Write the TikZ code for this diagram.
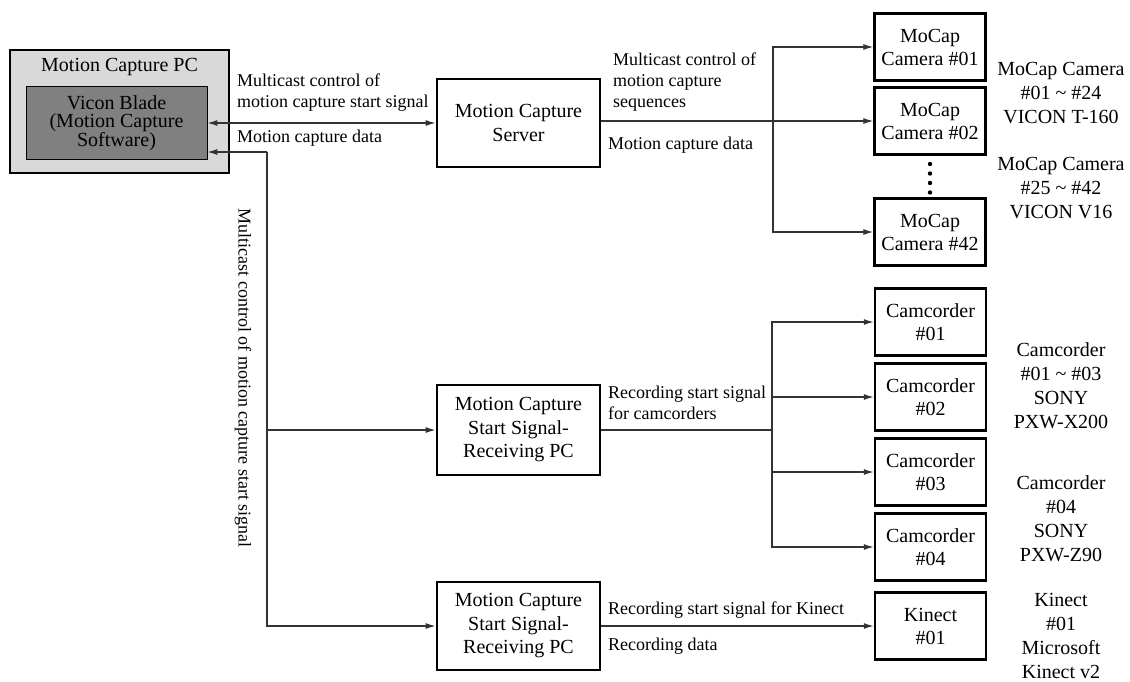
\documentclass[tikz,border=0pt]{standalone}
\usepackage{fontspec}
\setmainfont{Liberation Serif}
\usetikzlibrary{arrows.meta, positioning}

\begin{document}
\begin{tikzpicture}[x=1pt, y=-1pt,
            box/.style={draw, line width=2.8pt, fill=white, minimum width=163pt, minimum height=88pt, align=center, font=\fontsize{20}{23.5}\selectfont},
            dev/.style={draw, line width=2.4pt, minimum width=111pt, minimum height=67pt, align=center, font=\fontsize{20}{23}\selectfont},
            note/.style={align=center, font=\fontsize{20}{24}\selectfont},
            lbl/.style={align=left, inner sep=0pt, font=\fontsize{18}{21}\selectfont},
            arr/.style={-{Latex[length=10pt,width=6pt]}, line width=1.2pt, draw=black!80}]

            \useasboundingbox (0,0) rectangle (1130,681);

            % motion capture PC
            \node[draw, line width=2.8pt, fill=black!15, minimum width=219pt, minimum height=123pt] (pc) at (119.5,111.5) {};
            \node[font=\fontsize{20}{23}\selectfont] (pctitle) at (119.5,67) {Motion Capture PC};
            \node[draw, line width=0.8pt, fill=black!50, minimum width=181pt, minimum height=73pt, align=center, font=\fontsize{20}{18.5}\selectfont] (vicon) at (116.5,123) {Vicon Blade\\(Motion Capture\\Software)};

            % servers and receiving PCs
            \node[box] (server) at (518.5,123) {Motion Capture\\Server};
            \node[box, minimum height=90pt] (recv1) at (518.5,430) {Motion Capture\\Start Signal-\\Receiving PC};
            \node[box] (recv2) at (518.5,626) {Motion Capture\\Start Signal-\\Receiving PC};

            % devices
            \node[dev] (cam1) at (930,47) {MoCap\\Camera \#01};
            \node[dev] (cam2) at (930,121) {MoCap\\Camera \#02};
            \node[dev] (cam42) at (930,232) {MoCap\\Camera \#42};
            \node[dev] (cord1) at (930.5,322) {Camcorder\\\#01};
            \node[dev] (cord2) at (930.5,397) {Camcorder\\\#02};
            \node[dev] (cord3) at (930.5,472) {Camcorder\\\#03};
            \node[dev] (cord4) at (930.5,547) {Camcorder\\\#04};
            \node[dev] (kinect) at (930.5,626) {Kinect\\\#01};
            \foreach \y in {164,173.5,183,192.5}
                \fill (930,\y) circle (2.2pt);

            % device notes
            \node[note] (camnote1) at (1061,93) {MoCap Camera\\\#01 \textasciitilde{} \#24\\VICON T-160};
            \node[note] (camnote2) at (1061,188) {MoCap Camera\\\#25 \textasciitilde{} \#42\\VICON V16};
            \node[note] (cordnote1) at (1061,386) {Camcorder\\\#01 \textasciitilde{} \#03\\SONY\\PXW-X200};
            \node[note] (cordnote2) at (1061,519) {Camcorder\\\#04\\SONY\\PXW-Z90};
            \node[note] (kinnote) at (1061,636) {Kinect\\\#01\\Microsoft\\Kinect v2};

            % connectors
            \draw[arr, {Latex[length=10pt,width=6pt]}-{Latex[length=10pt,width=6pt]}] (vicon.east) -- (server.west);
            \coordinate (split) at (267,152);
            \draw[arr] (split) -- (split -| vicon.east);
            \draw[arr] (split) |- (recv1.west);
            \draw[arr] (split) |- (recv2.west);

            \coordinate (hub1) at (773,121);
            \draw[arr] (server.east |- hub1) -- (cam2.west);
            \draw[arr] (hub1) |- (cam1.west);
            \draw[arr] (hub1) |- (cam42.west);

            \coordinate (hub2) at (772,430);
            \draw[line width=1.2pt, black!80] (recv1.east) -- (hub2);
            \foreach \n in {cord1,cord2,cord3,cord4}
                \draw[arr] (hub2) |- (\n.west);
            \draw[arr] (recv2.east) -- (kinect.west);

            % connector labels
            \node[lbl, anchor=west] (lstart) at (237,93) {Multicast control of\\motion capture start signal};
            \node[lbl, anchor=west] (ldata) at (237,138) {Motion capture data};
            \node[lbl, rotate=-90] (lmulti) at (243,378) {Multicast control of motion capture start signal};
            \node[lbl, anchor=west] (lseq) at (613,82) {Multicast control of\\motion capture\\sequences};
            \node[lbl, anchor=west] (ldata2) at (608,145) {Motion capture data};
            \node[lbl, anchor=west] (lcord) at (608,403) {Recording start signal\\for camcorders};
            \node[lbl, anchor=west] (lkin) at (608,610) {Recording start signal for Kinect};
            \node[lbl, anchor=west] (lrec) at (608,646) {Recording data};
        \end{tikzpicture}
\end{document}
